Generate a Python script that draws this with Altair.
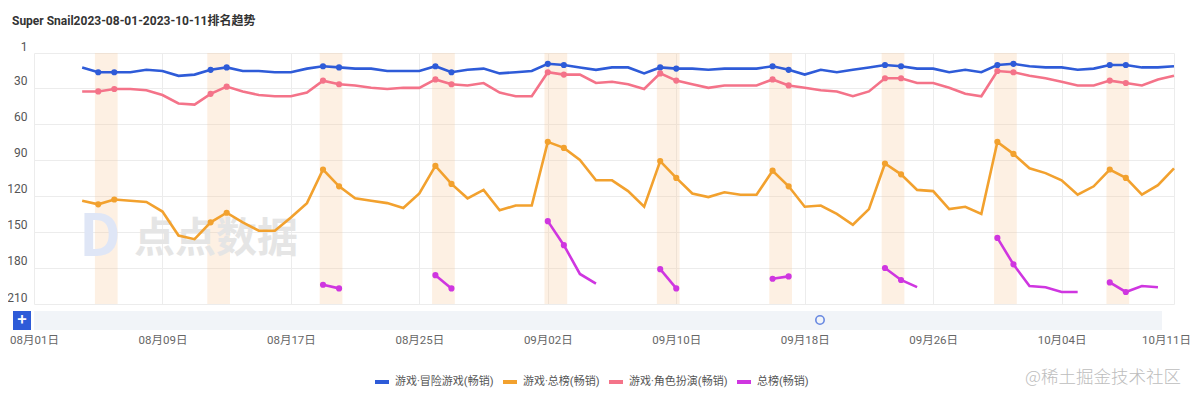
import altair as alt
import pandas as pd

FONT = "Noto Sans CJK SC"
MIX_FONT = "Roboto, Noto Sans CJK SC"

# ---- categories -------------------------------------------------------
dates = pd.date_range("2023-08-04", "2023-10-11", freq="D")
tick_dates = ["2023-08-01", "2023-08-09", "2023-08-17", "2023-08-25", "2023-09-02",
              "2023-09-10", "2023-09-18", "2023-09-26", "2023-10-04", "2023-10-11"]
y_ticks = [1, 30, 60, 90, 120, 150, 180, 210]

series_names = ["游戏·冒险游戏(畅销)", "游戏·总榜(畅销)", "游戏·角色扮演(畅销)", "总榜(畅销)"]
series_colors = ["#2e5bd8", "#f2a12e", "#f47389", "#cf36e0"]

# ---- values (rank, one per day from 08-04 to 10-11) -------------------
rank_adventure = [13, 17, 17, 17, 15, 16, 20, 19, 15, 13, 16, 16, 17, 17, 14, 12, 13, 14,
                  14, 16, 16, 16, 12, 17, 15, 14, 18, 17, 16, 10, 11, 13, 15, 13, 13,
                  18, 13, 14, 14, 15, 14, 14, 14, 12, 15, 19, 15, 17, 15, 13, 11, 12, 14,
                  14, 17, 15, 17, 11, 10, 12, 13, 13, 15, 14, 11, 11, 13, 13, 12]
rank_overall = [124, 127, 123, 124, 125, 133, 153, 156, 142, 134, 142, 149, 149, 138, 126, 98, 112, 122,
                124, 126, 130, 118, 95, 110, 122, 115, 132, 128, 128, 75, 80, 90, 107, 107, 116,
                129, 91, 105, 118, 121, 117, 119, 119, 99, 112, 129, 128, 135, 144, 131, 93, 102, 115,
                116, 131, 129, 135, 75, 85, 97, 101, 107, 119, 112, 98, 105, 119, 111, 97]
rank_rpg = [33, 33, 31, 31, 32, 36, 43, 44, 35, 29, 33, 36, 37, 37, 34, 24, 27, 28,
            30, 31, 30, 30, 23, 27, 28, 26, 34, 37, 37, 17, 19, 19, 26, 25, 27,
            31, 18, 24, 27, 30, 28, 28, 28, 23, 28, 30, 32, 33, 37, 33, 22, 22, 26,
            26, 30, 35, 37, 16, 17, 20, 22, 25, 28, 28, 24, 26, 28, 23, 20]
rank_top = [None, None, None, None, None, None, None, None, None, None, None, None, None, None, None,
            194, 197,
            None, None, None, None, None,
            186, 197,
            None, None, None, None, None,
            141, 161, 185, 193,
            None, None, None,
            181, 197,
            None, None, None, None, None,
            189, 187,
            None, None, None, None, None,
            180, 190, 196,
            None, None, None, None,
            155, 177, 195, 196, 200, 200,
            None,
            192, 200, 195, 196,
            None]

# ---- tables built from the arrays ---------------------------------------
rows = []
for name, vals in zip(series_names, [rank_adventure, rank_overall, rank_rpg, rank_top]):
    seg = 0
    for d, v in zip(dates, vals):
        if v is None:
            seg += 1
            continue
        rows.append({"date": d, "rank": v, "series": name,
                     "seg": f"{name}-{seg}", "weekend": bool(d.dayofweek >= 5)})
df = pd.DataFrame(rows)

saturdays = [d for d in dates if d.dayofweek == 5]
bands = pd.DataFrame({
    "start": [d - pd.Timedelta(hours=5) for d in saturdays],
    "end": [d + pd.Timedelta(days=1, hours=5) for d in saturdays],
})


def dt(s):
    t = pd.Timestamp(s)
    return alt.DateTime(year=t.year, month=t.month, date=t.day)


x_scale = alt.Scale(domain=[dt(tick_dates[0]), dt(tick_dates[-1])], nice=False)
x_axis = alt.Axis(values=[dt(s) for s in tick_dates], format="%m月%d日", title=None,
                  ticks=False, domain=False, offset=27, labelPadding=3,
                  labelFontSize=11.5, labelColor="#666", labelFont=MIX_FONT,
                  labelOverlap=False, labelFlush=False, gridColor="#ececec",
                  labelOffset={"condition": {"test": "datum.label == '10月11日'", "value": -8},
                               "value": 0})
y_scale = alt.Scale(domain=[1, 210], reverse=True, nice=False, zero=False)
y_axis = alt.Axis(values=y_ticks, title=None, ticks=False, domain=False, labelPadding=7,
                  labelFontSize=12, labelColor="#555", labelFont=MIX_FONT,
                  labelBaseline="bottom", gridColor="#ececec")
color = alt.Color("series:N", scale=alt.Scale(domain=series_names, range=series_colors),
                  legend=alt.Legend(orient="none", legendX=339, legendY=320,
                                    direction="horizontal", title=None,
                                    symbolType="stroke", symbolStrokeWidth=4,
                                    symbolSize=196, labelFontSize=11, labelColor="#555",
                                    labelFont=MIX_FONT, columnPadding=1, labelOffset=4))

band_layer = alt.Chart(bands).mark_rect(color="#f9c999", opacity=0.28).encode(
    x=alt.X("start:T", scale=x_scale, axis=x_axis),
    x2="end:T",
    y=alt.value(0), y2=alt.value(251),
)

line_layer = alt.Chart(df).mark_line(strokeWidth=2.6).encode(
    x=alt.X("date:T", scale=x_scale, axis=x_axis),
    y=alt.Y("rank:Q", scale=y_scale, axis=y_axis),
    color=color,
    detail="seg:N",
)

point_layer = alt.Chart(df).transform_filter("datum.weekend").mark_circle(size=38, opacity=1).encode(
    x=alt.X("date:T", scale=x_scale, axis=x_axis),
    y=alt.Y("rank:Q", scale=y_scale, axis=y_axis),
    color=color,
)

one = pd.DataFrame({"k": [0]})

logo_d = alt.Chart(one).mark_text(text="D", font=FONT, fontSize=58, fontWeight="bold",
                                  color="#dfe6f6", align="center", baseline="middle").encode(
    x=alt.value(66), y=alt.value(186))
logo_txt = alt.Chart(one).mark_text(text="点点数据", font=FONT, fontSize=41, fontWeight="bold",
                                    color="#e5e5e5", align="center", baseline="middle").encode(
    x=alt.value(182), y=alt.value(187))

slider = alt.Chart(one).mark_rect(color="#f1f4f8").encode(
    x=alt.value(0), x2=alt.value(1128), y=alt.value(258), y2=alt.value(277))
plus_btn = alt.Chart(one).mark_rect(color="#2e5bd8").encode(
    x=alt.value(-21), x2=alt.value(-3), y=alt.value(258), y2=alt.value(277))
plus_txt = alt.Chart(one).mark_text(text="+", font=FONT, fontSize=16, fontWeight="bold",
                                    color="white", align="center", baseline="middle").encode(
    x=alt.value(-12), y=alt.value(267))
handle = alt.Chart(one).mark_point(shape="circle", filled=False, color="#2e5bd8",
                                   size=70, strokeWidth=1.6).encode(
    x=alt.value(786), y=alt.value(267))

watermark = alt.Chart(one).mark_text(text="@稀土掘金技术社区", font=FONT, fontSize=17.5,
                                     fontWeight=300, color="#bdbdbd", align="right",
                                     baseline="middle").encode(
    x=alt.value(1147), y=alt.value(325))

chart = alt.layer(
    band_layer, logo_d, logo_txt, line_layer, point_layer,
    slider, plus_btn, plus_txt, handle, watermark,
).properties(
    width=1140, height=251,
    autosize=alt.AutoSizeParams(type="none"),
    padding={"left": 26, "top": 45, "right": 18, "bottom": 84},
    title=alt.TitleParams(text="Super Snail2023-08-01-2023-10-11排名趋势", anchor="start",
                          frame="group", fontSize=12, fontWeight="bold", color="#333",
                          font=MIX_FONT, dx=-22, dy=-8),
).configure_view(stroke=None)

chart.save("out.html", embed_options={"renderer": "svg", "actions": False})
